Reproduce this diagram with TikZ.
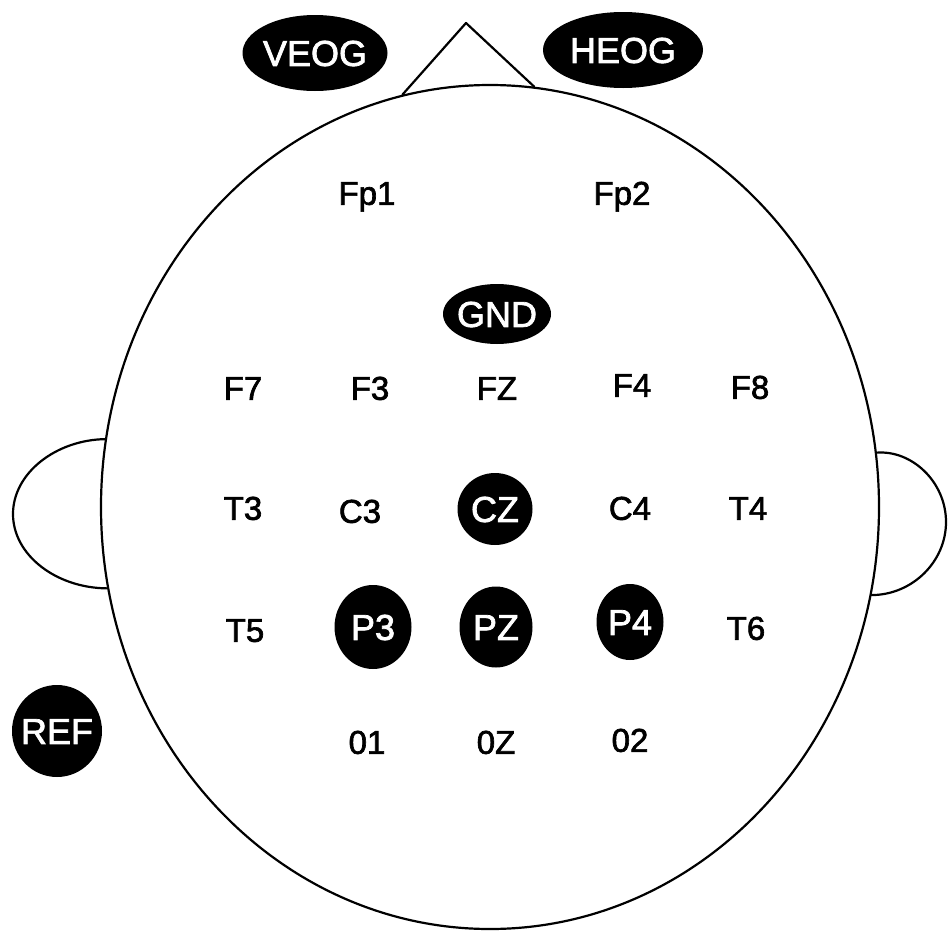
\documentclass[tikz,border=0pt]{standalone}
\usepackage{fontspec}
\setmainfont{Liberation Sans}
\newfontfamily\elecfont{Liberation Sans}[FakeBold=2]
\usetikzlibrary{shapes.geometric}
\tikzset{
  outline/.style={line width=2.2pt, line join=round, line cap=round},
  elec/.style={font=\elecfont\fontsize{33}{33}\selectfont, inner sep=0pt, text height=23.6pt, text depth=0pt},
  whitetext/.style={font=\elecfont\fontsize{36}{36}\selectfont, inner sep=0pt, text height=25.8pt, text depth=0pt, text=white},
  blk/.style={ellipse, fill=black, inner sep=0pt}
}
\begin{document}
\begin{tikzpicture}[x=1pt, y=-1pt]
\useasboundingbox (0,0) rectangle (948,932);
% head
\node[outline, draw, ellipse, minimum width=778pt, minimum height=844pt, inner sep=0pt] (head) at (490,507) {};
% nose
\coordinate (apex) at (466,23);
\draw[outline] (head.102.5) -- (apex) -- (head.84.4);
% ears
\draw[outline] (head.170.1) .. controls (56,440) and (13,473) .. (13,514)
                            .. controls (13,555) and (56,588) .. (head.192);
\draw[outline] (head.8.4) .. controls (912,450) and (946,482) .. (946,522)
                          .. controls (946,562) and (912,595) .. (head.-13);
% black electrodes
\node[blk, minimum width=145pt, minimum height=76pt, label={[whitetext]center:VEOG}] (veog) at (315,53) {};
\node[blk, minimum width=160pt, minimum height=76pt, label={[whitetext]center:HEOG}] (heog) at (623,50) {};
\node[blk, minimum width=108pt, minimum height=60pt, label={[whitetext]center:GND}] (gnd) at (497,314) {};
\node[blk, minimum width=75pt, minimum height=72pt, label={[whitetext]center:CZ}] (cz) at (495,509) {};
\node[blk, minimum width=77pt, minimum height=84pt, label={[whitetext]center:P3}] (p3) at (373,627) {};
\node[blk, minimum width=73pt, minimum height=81pt, label={[whitetext]center:PZ}] (pz) at (496,627) {};
\node[blk, minimum width=67pt, minimum height=76pt, label={[whitetext]center:P4}] (p4) at (630,622) {};
\node[blk, minimum width=90pt, minimum height=92pt, label={[whitetext]center:REF}] (ref) at (57,731) {};
% plain electrodes
\node[elec] (fp1) at (367,193) {Fp1};
\node[elec] (fp2) at (622,193) {Fp2};
\node[elec] (f7) at (243,388) {F7};
\node[elec] (f3) at (370,388) {F3};
\node[elec] (fz) at (497,388) {FZ};
\node[elec] (f4) at (632,385) {F4};
\node[elec] (f8) at (750,387) {F8};
\node[elec] (t3) at (243,508) {T3};
\node[elec] (c3) at (360,511) {C3};
\node[elec] (c4) at (630,508) {C4};
\node[elec] (t4) at (748,508) {T4};
\node[elec] (t5) at (245,630) {T5};
\node[elec] (t6) at (746,628) {T6};
\node[elec] (o1) at (367,742) {01};
\node[elec] (oz) at (496,742) {0Z};
\node[elec] (o2) at (630,740) {02};
\end{tikzpicture}
\end{document}
